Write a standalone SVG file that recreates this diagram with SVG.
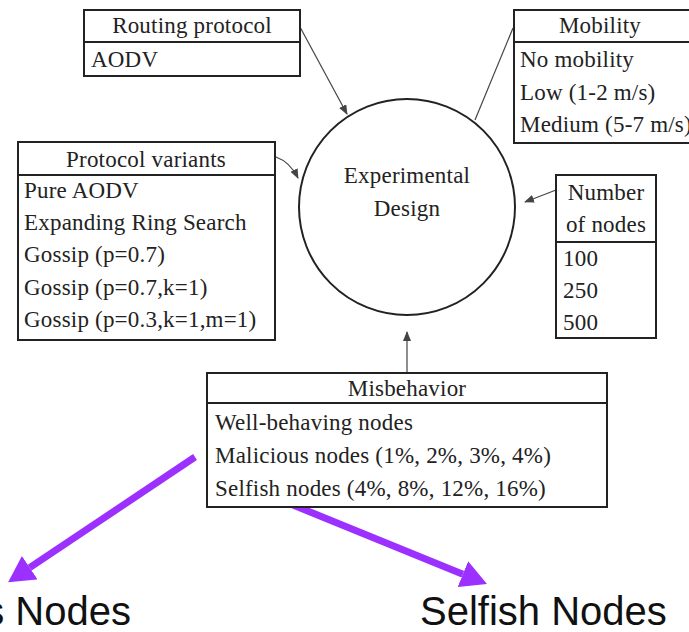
<svg xmlns="http://www.w3.org/2000/svg" width="689" height="632" viewBox="0 0 689 632">
<style>
.box{fill:#fff;stroke:#222;stroke-width:2}
.div{stroke:#222;stroke-width:2}
.t{font-family:"Liberation Serif","Times New Roman",serif;font-size:23px;letter-spacing:0.2px;fill:#222}
.c{text-anchor:middle}
.con{fill:none;stroke:#444;stroke-width:1.2}
.big{stroke:#9b30ff;stroke-width:7;fill:none}
.lbl{font-family:"Liberation Sans",Arial,sans-serif;font-size:40px;fill:#111}
</style>
<defs>
<marker id="sm" markerUnits="userSpaceOnUse" markerWidth="10" markerHeight="8" refX="9" refY="4" orient="auto">
<path d="M0,0 L10,4 L0,8 z" fill="#444"/>
</marker>
<marker id="pm" markerUnits="userSpaceOnUse" markerWidth="26" markerHeight="28" refX="0" refY="14" orient="auto">
<path d="M0,0 L26,14 L0,28 z" fill="#9b30ff"/>
</marker>
</defs>
<rect width="689" height="632" fill="#fff"/>
<g id="connectors">
<path class="con" d="M300,27 L347,114" marker-end="url(#sm)"/>
<path class="con" d="M513,28 L475,120"/>
<path class="con" d="M276,157 Q290,162 298,178" marker-end="url(#sm)"/>
<path class="con" d="M556,190 L525,202" marker-end="url(#sm)"/>
<path class="con" d="M407,373 L407,332" marker-end="url(#sm)"/>
<path class="big" d="M195,457 L29.7,567.7" marker-end="url(#pm)"/>
<path class="big" d="M293,505 L462.9,574.2" marker-end="url(#pm)"/>
</g>
<g id="design">
<circle cx="407" cy="207" r="108" fill="#fff" stroke="#222" stroke-width="2"/>
<text class="t c" x="407" y="183">Experimental</text>
<text class="t c" x="407" y="216">Design</text>
</g>
<g id="routing">
<rect class="box" x="84" y="10" width="216" height="66"/>
<line class="div" x1="84" y1="42" x2="300" y2="42"/>
<text class="t c" x="192" y="33">Routing protocol</text>
<text class="t" x="91" y="67">AODV</text>
</g>
<g id="mobility">
<rect class="box" x="514" y="10" width="190" height="133"/>
<line class="div" x1="514" y1="42" x2="704" y2="42"/>
<text class="t c" x="600" y="33">Mobility</text>
<text class="t" x="520" y="67">No mobility</text>
<text class="t" x="520" y="100">Low (1-2 m/s)</text>
<text class="t" x="520" y="132">Medium (5-7 m/s)</text>
</g>
<g id="variants">
<rect class="box" x="18" y="142" width="257" height="198"/>
<line class="div" x1="18" y1="175" x2="275" y2="175"/>
<text class="t c" x="146" y="167">Protocol variants</text>
<text class="t" x="24" y="198">Pure AODV</text>
<text class="t" x="24" y="230">Expanding Ring Search</text>
<text class="t" x="24" y="262">Gossip (p=0.7)</text>
<text class="t" x="24" y="295">Gossip (p=0.7,k=1)</text>
<text class="t" x="24" y="327">Gossip (p=0.3,k=1,m=1)</text>
</g>
<g id="nodes">
<rect class="box" x="556" y="175" width="100" height="163"/>
<line class="div" x1="556" y1="242" x2="656" y2="242"/>
<text class="t c" x="606" y="200">Number</text>
<text class="t c" x="606" y="232">of nodes</text>
<text class="t" x="563" y="266">100</text>
<text class="t" x="563" y="298">250</text>
<text class="t" x="563" y="330">500</text>
</g>
<g id="misbehavior">
<rect class="box" x="207" y="373" width="400" height="134"/>
<line class="div" x1="207" y1="403" x2="607" y2="403"/>
<text class="t c" x="407" y="396">Misbehavior</text>
<text class="t" x="215" y="430">Well-behaving nodes</text>
<text class="t" x="215" y="463">Malicious nodes (1%, 2%, 3%, 4%)</text>
<text class="t" x="215" y="496">Selfish nodes (4%, 8%, 12%, 16%)</text>
</g>
<g id="malicious-label">
<text class="lbl" x="131" y="625" text-anchor="end">Malicious Nodes</text>
</g>
<g id="selfish-label">
<text class="lbl" x="420" y="625">Selfish Nodes</text>
</g>
</svg>
